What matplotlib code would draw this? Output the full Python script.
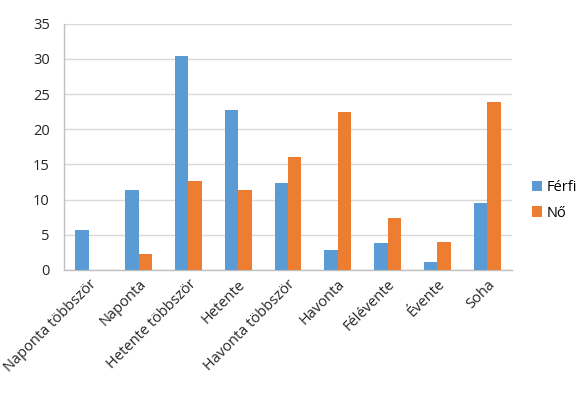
import numpy as np
import matplotlib
matplotlib.use("Agg")
import matplotlib.pyplot as plt

# adatok
kategoriak = ["Naponta többször", "Naponta", "Hetente többször", "Hetente",
              "Havonta többször", "Havonta", "Félévente", "Évente", "Soha"]
ferfi = [5.7, 11.3, 30.4, 22.8, 12.4, 2.9, 3.8, 1.1, 9.5]
no = [0, 2.2, 12.6, 11.3, 16.1, 22.5, 7.4, 4.0, 23.9]
y_ticks = [0, 5, 10, 15, 20, 25, 30, 35]

plt.rcParams['font.family'] = ['Open Sans', 'DejaVu Sans']

fig = plt.figure(figsize=(5.8, 3.97), dpi=100)
ax = fig.add_axes([0.110, 0.320, 0.773, 0.620])

x = np.arange(len(kategoriak))
w = 0.27
ax.bar(x - w/2, ferfi, width=w, color='#5B9BD5', label='Férfi', zorder=3)
ax.bar(x + w/2, no, width=w, color='#ED7D31', label='Nő', zorder=3)

ax.set_xlim(-0.5, len(kategoriak) - 0.5)
ax.set_ylim(0, 35)
ax.set_yticks(y_ticks)
ax.yaxis.grid(True, color='#D9D9D9', linewidth=1, zorder=0)
ax.tick_params(axis='both', length=0, labelsize=10.5, colors='#262626')
ax.tick_params(axis='y', pad=10)
ax.tick_params(axis='x', pad=5)
ax.set_xticks(x)
ax.set_xticklabels(kategoriak, rotation=45, ha='right', rotation_mode='anchor')

for s in ['top', 'right']:
    ax.spines[s].set_visible(False)
for s in ['left', 'bottom']:
    ax.spines[s].set_color('#BFBFBF')
    ax.spines[s].set_linewidth(1)

ax.legend(loc='center left', bbox_to_anchor=(0.895, 0.495), bbox_transform=fig.transFigure,
          frameon=False, handlelength=0.7, handleheight=0.7, handletextpad=0.3,
          fontsize=10.5, labelspacing=0.7)

fig.savefig('out.png', dpi=100)
